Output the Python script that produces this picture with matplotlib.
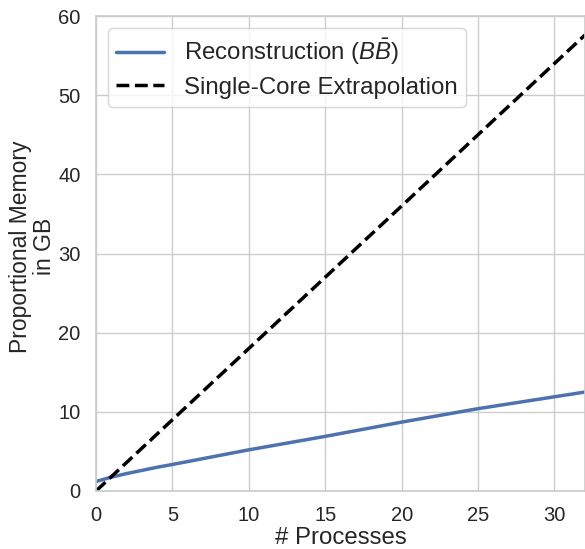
import numpy as np
import matplotlib
matplotlib.use("Agg")
import matplotlib.pyplot as plt
import seaborn as sns

# values
procs = [0, 1, 2, 4, 5, 10, 15, 20, 25, 30, 32]
recon_mem = [1.2, 1.75, 2.2, 3.0, 3.35, 5.2, 6.9, 8.7, 10.4, 11.9, 12.5]
extrap_procs = [0, 32]
extrap_mem = [0.0, 57.6]

sns.set_theme(style="whitegrid")
plt.rcParams['font.family'] = ['Liberation Sans', 'DejaVu Sans']
plt.rcParams['mathtext.fontset'] = 'custom'
plt.rcParams['mathtext.it'] = 'Liberation Sans:italic'
plt.rcParams['mathtext.rm'] = 'Liberation Sans'

fig = plt.figure(figsize=(5.85, 5.49), dpi=100)
ax = fig.add_axes([96 / 585, 1 - 491 / 549, 489 / 585, 475 / 549])

ax.plot(procs, recon_mem, color="#4C72B0", lw=2.5, label=r"Reconstruction ($B\bar{B}$)")
ax.plot(extrap_procs, extrap_mem, color="black", lw=2.5, ls="--",
        label="Single-Core Extrapolation")

ax.set_xlim(0, 32)
ax.set_ylim(0, 60)
ax.set_xticks([0, 5, 10, 15, 20, 25, 30])
ax.set_yticks([0, 10, 20, 30, 40, 50, 60])
ax.tick_params(labelsize=14.5, colors="#262626", pad=5)
ax.set_xlabel("# Processes", fontsize=17.3, color="#262626", labelpad=1)
ax.set_ylabel("Proportional Memory\nin GB", fontsize=16.5, color="#262626",
              linespacing=1.05)
ax.yaxis.set_label_coords(-0.081, 0.515)
ax.legend(loc="upper left", fontsize=17.3, handlelength=2.0, borderpad=0.35,
          labelspacing=0.4)

fig.savefig("out.png", dpi=100)
